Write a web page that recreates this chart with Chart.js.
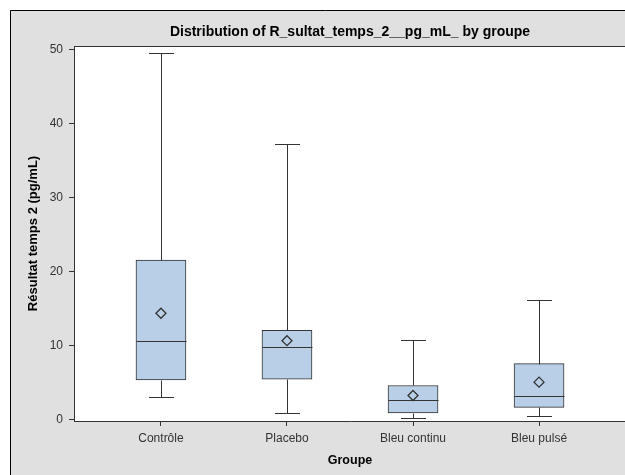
<!DOCTYPE html>
<html>
<head>
<meta charset="utf-8">
<script src="https://cdn.jsdelivr.net/npm/chart.js@4.4.1/dist/chart.umd.min.js"></script>
<style>
  html, body { margin: 0; padding: 0; overflow: hidden; background: #fff; }
  #wrap { position: absolute; left: 0; top: 0; width: 640px; height: 475px; }
</style>
</head>
<body>
<div id="wrap"><canvas id="c"></canvas></div>
<script>
const categories = ['Contrôle', 'Placebo', 'Bleu continu', 'Bleu pulsé'];
const whiskerLow = [3.1, 0.95, 0.2, 0.46];
const q1 = [5.4, 5.5, 0.95, 1.7];
const median = [10.7, 9.9, 2.7, 3.2];
const q3 = [21.6, 12.1, 4.65, 7.6];
const whiskerHigh = [49.6, 37.3, 10.8, 16.2];
const means = [14.4, 10.7, 3.3, 5.1];
const yTicks = [0, 10, 20, 30, 40, 50];

const FONT = "'Liberation Sans', Arial, sans-serif";
const BOX_FILL = 'rgb(185,207,231)';
const EDGE = '#333333';
const CAP_W = 25;
const BOX_W = 50;

const bgPlugin = {
  id: 'bg',
  beforeDraw(chart) {
    const {ctx, width, height, chartArea: a} = chart;
    ctx.save();
    ctx.fillStyle = '#ffffff';
    ctx.fillRect(0, 0, width, height);
    ctx.fillStyle = 'rgb(224,224,224)';
    ctx.fillRect(10, 10, width - 10, height - 10);
    ctx.strokeStyle = '#000';
    ctx.lineWidth = 1;
    ctx.beginPath();
    ctx.moveTo(10.5, height);
    ctx.lineTo(10.5, 10.5);
    ctx.lineTo(width, 10.5);
    ctx.stroke();
    ctx.fillStyle = '#ffffff';
    ctx.fillRect(a.left, a.top, a.right - a.left, a.bottom - a.top);
    ctx.restore();
  },
  afterDraw(chart) {
    const {ctx, chartArea: a} = chart;
    ctx.save();
    ctx.strokeStyle = EDGE;
    ctx.lineWidth = 1;
    ctx.beginPath();
    ctx.moveTo(a.left, Math.round(a.top) + 0.5);
    ctx.lineTo(a.right, Math.round(a.top) + 0.5);
    ctx.stroke();
    ctx.restore();
  }
};

const whiskerPlugin = {
  id: 'whiskers',
  afterDatasetDraw(chart, args) {
    if (args.index !== 0) return;
    const {ctx} = chart;
    const xs = chart.scales.x, ys = chart.scales.y;
    ctx.save();
    ctx.strokeStyle = EDGE;
    ctx.lineWidth = 1;
    categories.forEach((c, i) => {
      const x = Math.round(xs.getPixelForValue(i)) + 0.5;
      const py = v => Math.round(ys.getPixelForValue(v)) + 0.5;
      ctx.beginPath();
      ctx.moveTo(x, py(q3[i]));
      ctx.lineTo(x, py(whiskerHigh[i]));
      ctx.moveTo(x - CAP_W / 2, py(whiskerHigh[i]));
      ctx.lineTo(x + CAP_W / 2, py(whiskerHigh[i]));
      ctx.moveTo(x, py(q1[i]));
      ctx.lineTo(x, py(whiskerLow[i]));
      ctx.moveTo(x - CAP_W / 2, py(whiskerLow[i]));
      ctx.lineTo(x + CAP_W / 2, py(whiskerLow[i]));
      ctx.moveTo(x - BOX_W / 2, py(median[i]));
      ctx.lineTo(x + BOX_W / 2, py(median[i]));
      ctx.stroke();
    });
    ctx.restore();
  }
};

new Chart(document.getElementById('c'), {
  type: 'bar',
  data: {
    datasets: [
      {
        type: 'bar',
        data: categories.map((c, i) => ({x: i, y: [q1[i], q3[i]]})),
        backgroundColor: BOX_FILL,
        borderColor: EDGE,
        borderWidth: 1,
        borderSkipped: false,
        barThickness: BOX_W,
        order: 2
      },
      {
        type: 'scatter',
        data: categories.map((c, i) => ({x: i, y: means[i]})),
        pointStyle: 'rectRot',
        pointRadius: 5,
        backgroundColor: 'rgba(0,0,0,0)',
        borderColor: EDGE,
        borderWidth: 1.3,
        order: 1
      }
    ]
  },
  options: {
    responsive: true,
    maintainAspectRatio: false,
    animation: false,
    events: [],
    layout: { padding: { left: 10, top: 10, right: 14, bottom: 0 } },
    plugins: {
      legend: { display: false },
      tooltip: { enabled: false },
      title: {
        display: true,
        text: 'Distribution of R_sultat_temps_2__pg_mL_ by groupe',
        fullSize: false,
        color: '#000',
        font: { family: FONT, size: 14, weight: 'bold', lineHeight: 1.2 },
        padding: { top: 13.6, bottom: 5.6 }
      }
    },
    scales: {
      x: {
        type: 'linear',
        min: -0.69,
        max: 3.69,
        offset: false,
        afterBuildTicks(s) { s.ticks = categories.map((c, i) => ({value: i})); },
        afterFit(s) { s.height = 54; },
        ticks: {
          color: '#333',
          font: { family: FONT, size: 12 },
          padding: 5,
          maxRotation: 0,
          autoSkip: false,
          callback: v => categories[v]
        },
        grid: { offset: false, drawOnChartArea: false, drawTicks: true, tickLength: 5, color: EDGE },
        border: { display: true, color: EDGE, width: 1 },
        title: {
          display: true,
          text: 'Groupe',
          color: '#000',
          font: { family: FONT, size: 12.5, weight: 'bold', lineHeight: 1.2 },
          padding: { top: 0, bottom: 7 }
        }
      },
      y: {
        type: 'linear',
        min: -0.15,
        max: 50.5,
        afterBuildTicks(s) { s.ticks = yTicks.map(v => ({value: v})); },
        afterFit(s) { s.width = 64; },
        ticks: {
          color: '#333',
          font: { family: FONT, size: 12 },
          padding: 6
        },
        grid: { drawOnChartArea: false, drawTicks: true, tickLength: 5, color: EDGE },
        border: { display: true, color: EDGE, width: 1 },
        title: {
          display: true,
          text: 'Résultat temps 2 (pg/mL)',
          color: '#000',
          font: { family: FONT, size: 13, weight: 'bold', lineHeight: 1.2 },
          padding: { top: 16, bottom: 0 }
        }
      }
    }
  },
  plugins: [bgPlugin, whiskerPlugin]
});
</script>
</body>
</html>
